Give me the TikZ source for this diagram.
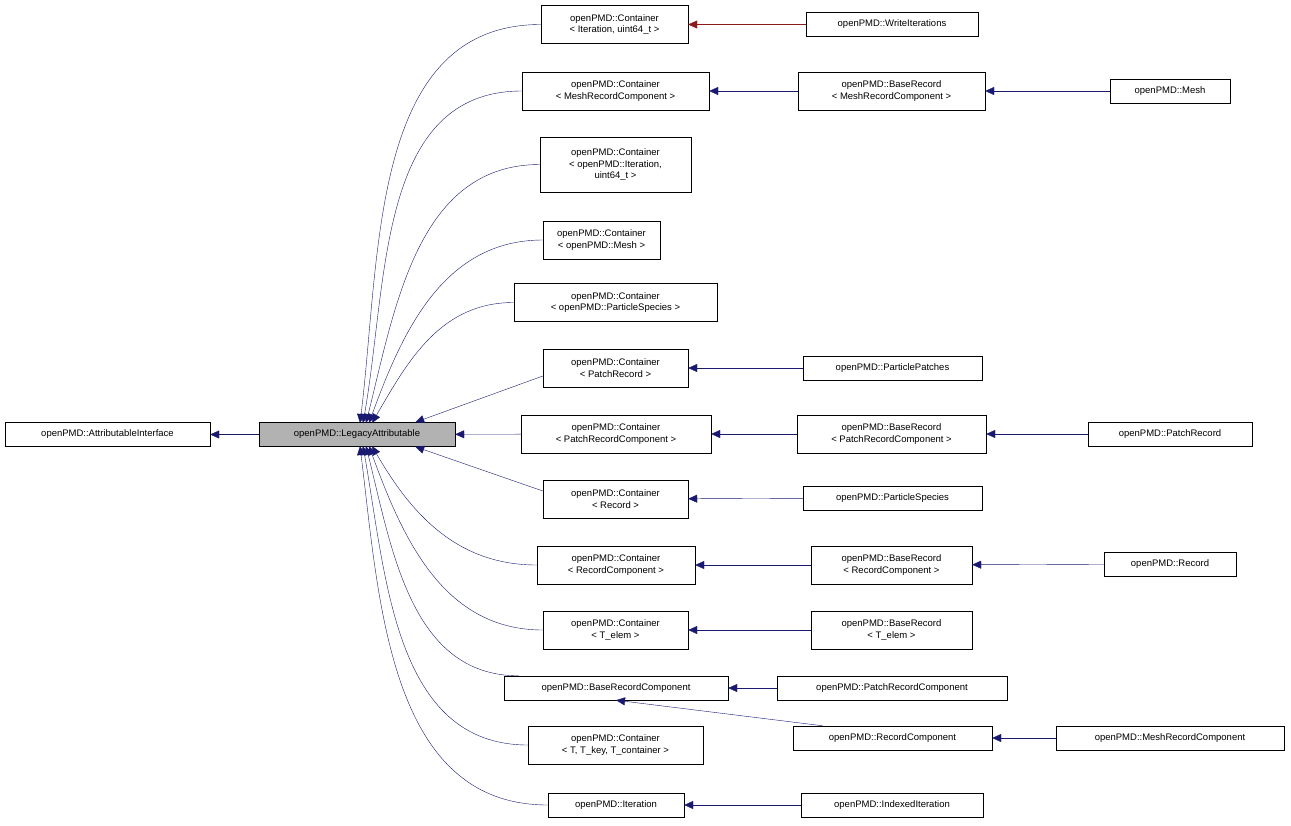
\documentclass[tikz,border=0pt]{standalone}
\usepackage{fontspec}
\setmainfont{Liberation Sans}
\usetikzlibrary{arrows.meta}
\definecolor{navy}{HTML}{191970}
\definecolor{dred}{HTML}{8B1A1A}
\begin{document}
\begin{tikzpicture}[x=1pt,y=-1pt,
  box/.style={draw=black,fill=white,align=center,font=\fontsize{9.5}{11.5}\selectfont,inner sep=1pt,minimum height=24pt},
  two/.style={box,minimum height=38pt},
  arr/.style={navy,-{Triangle[length=9pt,width=8pt]}},
  rarr/.style={dred,-{Triangle[length=9pt,width=8pt]}}]
\useasboundingbox (0,0) rectangle (1291,825);
\node[box,minimum width=205pt] (AI) at (107.5,434.5) {openPMD::AttributableInterface};
\node[box,minimum width=196pt,fill=black!30] (LA) at (357,434.5) {openPMD::LegacyAttributable};
\coordinate (ltop) at (366,423);
\coordinate (lbot) at (366,446);
\node[two,minimum width=147pt] (C1) at (614.5,24.5) {openPMD::Container\\< Iteration, uint64\_t >};
\node[box,minimum width=172pt] (WI) at (892,24.5) {openPMD::WriteIterations};
\node[two,minimum width=187pt] (C2) at (615.5,91) {openPMD::Container\\< MeshRecordComponent >};
\node[two,minimum width=187pt] (BR1) at (891.5,91) {openPMD::BaseRecord\\< MeshRecordComponent >};
\node[box,minimum width=120pt] (Mesh) at (1170,91) {openPMD::Mesh};
\node[box,minimum width=151pt,minimum height=55pt] (C3) at (615.5,164.5) {openPMD::Container\\< openPMD::Iteration,\\ uint64\_t >};
\node[two,minimum width=117pt] (C4) at (601.5,240) {openPMD::Container\\< openPMD::Mesh >};
\node[two,minimum width=203pt] (C5) at (615.5,302.5) {openPMD::Container\\< openPMD::ParticleSpecies >};
\node[two,minimum width=145pt] (C6) at (615.5,368) {openPMD::Container\\< PatchRecord >};
\node[box,minimum width=179pt] (PP) at (892.5,368) {openPMD::ParticlePatches};
\node[two,minimum width=190pt] (C7) at (616,434) {openPMD::Container\\< PatchRecordComponent >};
\node[two,minimum width=189pt] (BR2) at (891.5,434) {openPMD::BaseRecord\\< PatchRecordComponent >};
\node[box,minimum width=164pt] (PR) at (1170,434) {openPMD::PatchRecord};
\node[two,minimum width=145pt] (C8) at (615.5,499) {openPMD::Container\\< Record >};
\node[box,minimum width=179pt] (PS) at (892.5,498) {openPMD::ParticleSpecies};
\node[two,minimum width=158pt] (C9) at (616,565) {openPMD::Container\\< RecordComponent >};
\node[two,minimum width=161pt] (BR3) at (891.5,565) {openPMD::BaseRecord\\< RecordComponent >};
\node[box,minimum width=132pt] (Rec) at (1170,564) {openPMD::Record};
\node[two,minimum width=145pt] (C10) at (615.5,630) {openPMD::Container\\< T\_elem >};
\node[two,minimum width=161pt] (BR4) at (891.5,630) {openPMD::BaseRecord\\< T\_elem >};
\node[box,minimum width=224pt] (BRC) at (616,688) {openPMD::BaseRecordComponent};
\node[box,minimum width=230pt] (PRC) at (892,688) {openPMD::PatchRecordComponent};
\node[box,minimum width=199pt] (RC) at (892.5,738) {openPMD::RecordComponent};
\node[box,minimum width=228pt] (MRC) at (1170,738) {openPMD::MeshRecordComponent};
\node[two,minimum width=175pt] (C11) at (615.5,745) {openPMD::Container\\< T, T\_key, T\_container >};
\node[box,minimum width=136pt] (It) at (616,805) {openPMD::Iteration};
\node[box,minimum width=182pt] (II) at (892,805) {openPMD::IndexedIteration};

\draw[arr] (LA) -- (AI);
\draw[rarr] (WI) -- (C1);
\draw[arr] (BR1) -- (C2);
\draw[arr] (Mesh) -- (BR1);
\draw[arr] (PP) -- (C6);
\draw[arr] (BR2) -- (C7);
\draw[arr] (PR) -- (BR2);
\draw[arr] (PS) -- (C8);
\draw[arr] (BR3) -- (C9);
\draw[arr] (Rec) -- (BR3);
\draw[arr] (BR4) -- (C10);
\draw[arr] (PRC) -- (BRC);
\draw[arr] (RC.north west) ++(30,0) coordinate (rcn) (rcn) -- (BRC.south);
\draw[arr] (MRC) -- (RC);
\draw[arr] (II) -- (It);
\draw[arr] (C7) -- (LA);
\draw[arr] (C6.west) ++(0,8) coordinate (c6w) (c6w) -- ([xshift=-40pt]LA.north east);
\draw[arr] (C8.west) ++(0,-8) coordinate (c8w) (c8w) -- ([xshift=-40pt]LA.south east);
\draw[arr] (C1.west) to[out=180,in=83] ([xshift=-6pt]ltop);
\draw[arr] (C2.west) to[out=180,in=80] ([xshift=-3pt]ltop);
\draw[arr] (C3.west) to[out=180,in=76] (ltop);
\draw[arr] (C4.west) to[out=180,in=70] ([xshift=3pt]ltop);
\draw[arr] (C5.west) to[out=180,in=60] ([xshift=6pt]ltop);
\draw[arr] (C9.west) to[out=180,in=-60] ([xshift=6pt]lbot);
\draw[arr] (C10.west) to[out=180,in=-70] ([xshift=3pt]lbot);
\draw[arr] ([xshift=15pt]BRC.north west) to[out=180,in=-76] (lbot);
\draw[arr] (C11.west) to[out=180,in=-80] ([xshift=-3pt]lbot);
\draw[arr] (It.west) to[out=180,in=-83] ([xshift=-6pt]lbot);
\end{tikzpicture}
\end{document}
